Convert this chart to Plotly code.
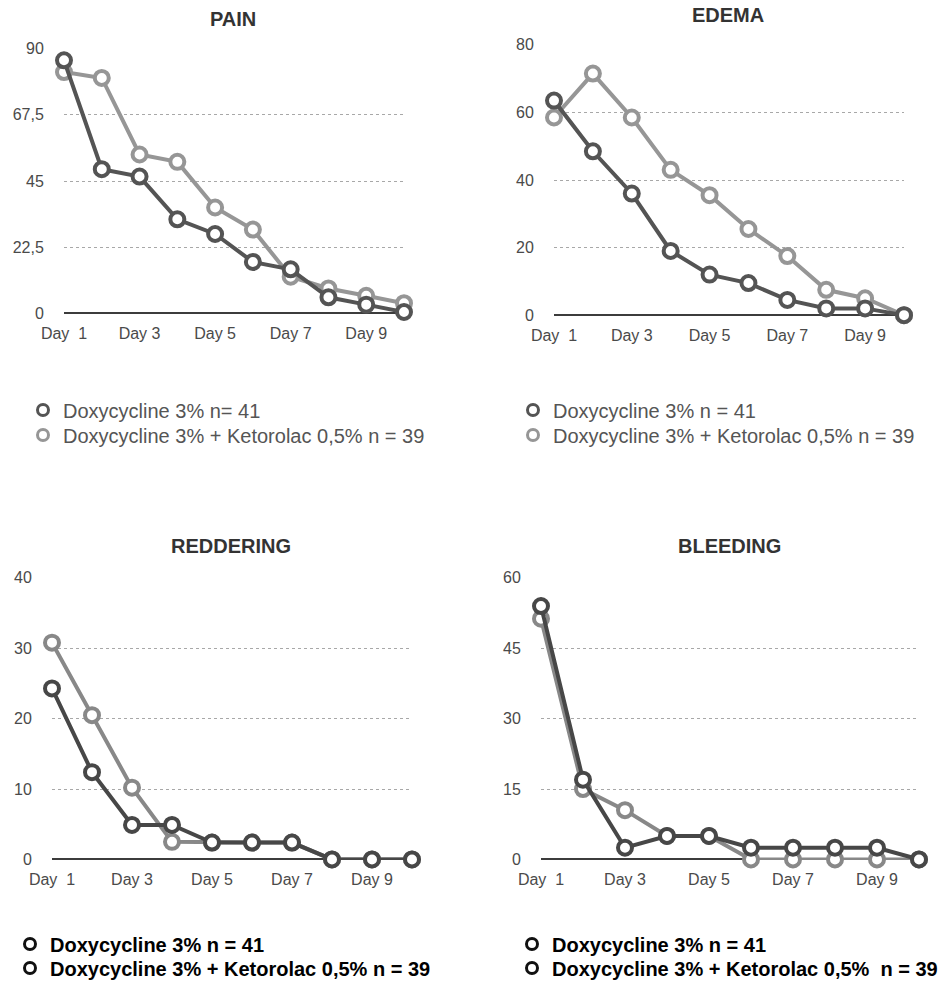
import plotly.graph_objects as go

# ---------------- data ----------------
days = [1, 2, 3, 4, 5, 6, 7, 8, 9, 10]
x_tick_vals = [1, 3, 5, 7, 9]
x_tick_text = ["Day\u00a0\u00a01", "Day 3", "Day 5", "Day 7", "Day 9"]

pain_doxy = [86, 49, 46.5, 32, 27, 17.5, 15, 5.5, 3, 0.5]
pain_keto = [82, 80, 54, 51.5, 36, 28.5, 12.5, 8.5, 6, 3.5]
edema_doxy = [63.5, 48.5, 36, 19, 12, 9.5, 4.5, 2, 2, 0]
edema_keto = [58.5, 71.5, 58.5, 43, 35.5, 25.5, 17.5, 7.5, 5, 0]
red_doxy = [24.3, 12.4, 4.9, 4.9, 2.4, 2.4, 2.4, 0, 0, 0]
red_keto = [30.8, 20.5, 10.2, 2.5, 2.4, 2.4, 2.4, 0, 0, 0]
bleed_doxy = [54, 17, 2.5, 5, 5, 2.5, 2.5, 2.5, 2.5, 0]
bleed_keto = [51.3, 15, 10.5, 5, 5, 0, 0, 0, 0, 0]

pain_ticks = [0, 22.5, 45, 67.5, 90]
pain_ticktext = ["0", "22,5", "45", "67,5", "90"]
edema_ticks = [0, 20, 40, 60, 80]
red_ticks = [0, 10, 20, 30, 40]
bleed_ticks = [0, 15, 30, 45, 60]

titles = ["PAIN", "EDEMA", "REDDERING", "BLEEDING"]

legend_tl = ["Doxycycline 3% n= 41", "Doxycycline 3% + Ketorolac 0,5% n = 39"]
legend_tr = ["Doxycycline 3% n = 41", "Doxycycline 3% + Ketorolac 0,5% n = 39"]
legend_bl = ["Doxycycline 3% n = 41", "Doxycycline 3% + Ketorolac 0,5% n = 39"]
legend_br = ["Doxycycline 3% n = 41", "Doxycycline 3% + Ketorolac 0,5%\u00a0\u00a0n = 39"]

# ---------------- layout helpers ----------------
W, H = 940, 986

def px_x(v):
    return v / W

def px_y(v):
    return (H - v) / H

panels = [
    dict(doxy=pain_doxy, keto=pain_keto, ticks=pain_ticks, ticktext=pain_ticktext, ymax=90,
         xd=[px_x(64), px_x(404)], yd=[px_y(314), px_y(48)],
         title_xy=(233, 19), legend=legend_tl, leg_x=23, leg_y=(410, 435),
         dark="#545454", light="#969696", top=True),
    dict(doxy=edema_doxy, keto=edema_keto, ticks=edema_ticks, ticktext=[str(t) for t in edema_ticks], ymax=80,
         xd=[px_x(554), px_x(904)], yd=[px_y(315.7), px_y(44.3)],
         title_xy=(728, 15), legend=legend_tr, leg_x=513, leg_y=(410, 435),
         dark="#545454", light="#969696", top=True),
    dict(doxy=red_doxy, keto=red_keto, ticks=red_ticks, ticktext=[str(t) for t in red_ticks], ymax=40,
         xd=[px_x(52), px_x(412)], yd=[px_y(860), px_y(577.3)],
         title_xy=(231, 546), legend=legend_bl, leg_x=10, leg_y=(944, 968),
         dark="#474747", light="#888888", top=False),
    dict(doxy=bleed_doxy, keto=bleed_keto, ticks=bleed_ticks, ticktext=[str(t) for t in bleed_ticks], ymax=60,
         xd=[px_x(541), px_x(919)], yd=[px_y(860), px_y(577.3)],
         title_xy=(729, 546), legend=legend_br, leg_x=512, leg_y=(944, 968),
         dark="#474747", light="#888888", top=False),
]

fig = go.Figure()
layout = dict(
    width=W, height=H,
    margin=dict(l=0, r=0, t=0, b=0, pad=0, autoexpand=False),
    paper_bgcolor="white", plot_bgcolor="white",
    showlegend=True,
    font=dict(family="Liberation Sans, Arial, sans-serif", color="#4a4a4a"),
    annotations=[],
    hovermode=False,
)

leg_count = 0
for i, p in enumerate(panels):
    n = i + 1
    xa = "x" if n == 1 else f"x{n}"
    ya = "y" if n == 1 else f"y{n}"
    # light series first, dark on top
    for vals, col in ((p["keto"], p["light"]), (p["doxy"], p["dark"])):
        fig.add_trace(go.Scatter(
            x=days, y=vals, mode="lines+markers", xaxis=xa, yaxis=ya,
            line=dict(color=col, width=4),
            marker=dict(symbol="circle", size=14, color="white", line=dict(color=col, width=4)),
            cliponaxis=False, showlegend=False,
        ))
    if p["top"]:
        lfont = dict(size=20, color="#555555", family="Liberation Sans, Arial, sans-serif")
    else:
        lfont = dict(size=20, color="#000000", family="Liberation Sans, Arial, sans-serif", weight="bold")
    # legend entries, one legend box per entry for exact placement
    for k, (name, col) in enumerate(((p["legend"][0], p["dark"]), (p["legend"][1], p["light"]))):
        leg_count += 1
        leg = "legend" if leg_count == 1 else f"legend{leg_count}"
        fig.add_trace(go.Scatter(
            x=[None], y=[None], mode="markers", xaxis=xa, yaxis=ya, name=name,
            marker=dict(symbol="circle", size=11, color="white",
                        line=dict(color=("#111111" if not p["top"] else col), width=3)),
            legend=leg, showlegend=True,
        ))
        layout[leg] = dict(
            x=px_x(p["leg_x"]), y=px_y(p["leg_y"][k]), xanchor="left", yanchor="middle",
            bgcolor="rgba(0,0,0,0)", borderwidth=0, font=lfont,
            orientation="v", tracegroupgap=0,
        )
    ymax = p["ymax"]
    layout["xaxis" if n == 1 else f"xaxis{n}"] = dict(
        domain=p["xd"], anchor=ya, range=[1, 10], tickvals=x_tick_vals, ticktext=x_tick_text,
        showgrid=False, zeroline=False, showline=False, automargin=False,
        ticks="outside", ticklen=5, tickcolor="rgba(0,0,0,0)",
        tickfont=dict(size=16, color="#4a4a4a"),
    )
    layout["yaxis" if n == 1 else f"yaxis{n}"] = dict(
        domain=p["yd"], anchor=xa, range=[-ymax * 0.002, ymax * 1.002],
        tickvals=p["ticks"], ticktext=p["ticktext"], automargin=False,
        showgrid=True, gridcolor="#a8a8a8", griddash="dot", gridwidth=1,
        zeroline=True, zerolinecolor="#3c3c3c", zerolinewidth=2,
        showline=False, ticks="outside", ticklen=16, tickcolor="rgba(0,0,0,0)",
        tickfont=dict(size=16, color="#4a4a4a"),
    )
    tx, ty = p["title_xy"]
    layout["annotations"].append(dict(
        text=f"<b>{titles[i]}</b>", x=px_x(tx), y=px_y(ty), xref="paper", yref="paper",
        xanchor="center", yanchor="middle", showarrow=False,
        font=dict(size=20, color="#333333", family="Liberation Sans, Arial, sans-serif"),
    ))

fig.update_layout(**layout)
fig.write_html("out.html", config={"displayModeBar": False},
               post_script="document.body.style.margin='0px';")
